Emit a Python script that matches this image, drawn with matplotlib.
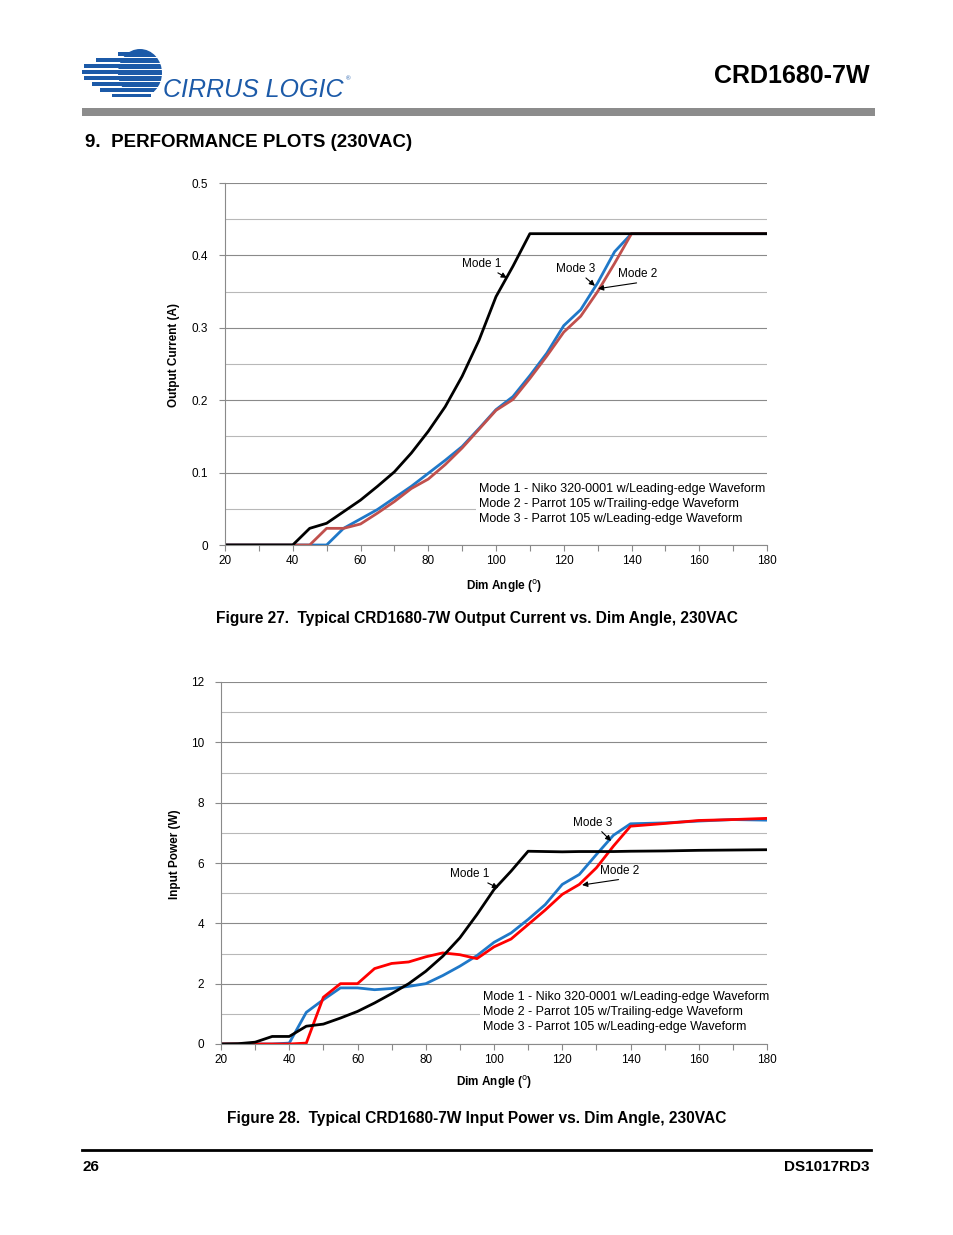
import numpy as np
import matplotlib.pyplot as plt
from matplotlib.patches import Rectangle, Ellipse
from matplotlib.ticker import MultipleLocator

plt.rcParams['font.family'] = ['Liberation Sans', 'DejaVu Sans']

# Figure 27 data: output current (A) vs dim angle
angle = [20, 25, 30, 35, 40, 45, 50, 55, 60, 65, 70, 75, 80, 85, 90, 95, 100,
         105, 110, 115, 120, 125, 130, 135, 140, 150, 160, 170, 180]
i_mode1 = [0, 0, 0, 0, 0, 0.023, 0.030, 0.046, 0.062, 0.081, 0.101, 0.127,
           0.157, 0.191, 0.233, 0.283, 0.343, 0.385, 0.430, 0.430, 0.430,
           0.430, 0.430, 0.430, 0.430, 0.430, 0.430, 0.430, 0.430]
i_mode2 = [0, 0, 0, 0, 0, 0, 0.023, 0.023, 0.029, 0.044, 0.060, 0.078, 0.091,
           0.111, 0.134, 0.160, 0.186, 0.201, 0.230, 0.261, 0.294, 0.316,
           0.350, 0.389, 0.430, 0.430, 0.430, 0.430, 0.430]
i_mode3 = [0, 0, 0, 0, 0, 0, 0, 0.023, 0.036, 0.049, 0.065, 0.081, 0.099,
           0.117, 0.136, 0.161, 0.187, 0.205, 0.234, 0.265, 0.303, 0.325,
           0.362, 0.405, 0.430, 0.430, 0.430, 0.430, 0.430]

# Figure 28 data: input power (W) vs dim angle
p_mode1 = [0, 0.01, 0.06, 0.25, 0.25, 0.59, 0.66, 0.86, 1.08, 1.36, 1.67,
           2.00, 2.41, 2.91, 3.52, 4.29, 5.12, 5.73, 6.39, 6.38, 6.37, 6.38,
           6.38, 6.38, 6.39, 6.40, 6.42, 6.43, 6.44]
p_mode2 = [0, 0, 0, 0, 0, 0.03, 1.55, 2.00, 2.00, 2.50, 2.67, 2.72, 2.89,
           3.02, 2.96, 2.83, 3.22, 3.48, 3.96, 4.44, 4.96, 5.29, 5.84, 6.56,
           7.22, 7.31, 7.41, 7.44, 7.48]
p_mode3 = [0, 0, 0, 0, 0.03, 1.05, 1.47, 1.86, 1.86, 1.80, 1.84, 1.91, 2.00,
           2.27, 2.58, 2.93, 3.37, 3.68, 4.13, 4.62, 5.29, 5.62, 6.28, 6.92,
           7.30, 7.33, 7.39, 7.44, 7.42]

legend_txt = ("Mode 1 - Niko 320-0001 w/Leading-edge Waveform\n"
              "Mode 2 - Parrot 105 w/Trailing-edge Waveform\n"
              "Mode 3 - Parrot 105 w/Leading-edge Waveform")

W, H = 954, 1235
fig = plt.figure(figsize=(W / 100, H / 100), dpi=100)

# page overlay in pixel coords
bg = fig.add_axes([0, 0, 1, 1])
bg.set_xlim(0, W)
bg.set_ylim(H, 0)
bg.axis('off')

logo_blue = '#1C5AA8'
# stripe logo
for k, (y0, xl) in enumerate([(52, 118), (58, 96), (64, 84), (70, 82),
                              (76, 84), (82, 92), (88, 100), (93, 112)]):
    bg.add_patch(Rectangle((xl, y0), 162 - xl - abs(k - 3.5) * 3, 4.2,
                           color=logo_blue, lw=0))
bg.add_patch(Ellipse((140, 73), 44, 48, color=logo_blue, lw=0, zorder=1))
for y0 in [56.5, 62.5, 68.5, 74.5, 80.5, 86.5, 92]:
    bg.add_patch(Rectangle((80, y0), 90, 1.6, color='white', lw=0, zorder=2))
bg.text(163, 97, 'CIRRUS LOGIC', color=logo_blue, fontsize=18,
        style='italic', ha='left', va='baseline')
bg.text(346, 80, '®', color=logo_blue, fontsize=4.5, ha='left', va='baseline')

bg.text(870, 83, 'CRD1680-7W', fontsize=18, fontweight='bold',
        ha='right', va='baseline')
bg.add_patch(Rectangle((82, 108), 793, 8, color='#8C8C8C', lw=0))
bg.text(85, 147, '9.  PERFORMANCE PLOTS (230VAC)', fontsize=13.5,
        fontweight='bold', ha='left', va='baseline')

bg.text(477, 623, 'Figure 27.  Typical CRD1680-7W Output Current vs. Dim Angle, 230VAC',
        fontsize=11.2, fontweight='bold', ha='center', va='baseline')
bg.text(477, 1123, 'Figure 28.  Typical CRD1680-7W Input Power vs. Dim Angle, 230VAC',
        fontsize=11.2, fontweight='bold', ha='center', va='baseline')

bg.plot([82, 871], [1150, 1150], color='black', lw=2)
bg.text(83, 1171, '26', fontsize=11, fontweight='bold', ha='left', va='baseline')
bg.text(870, 1171, 'DS1017RD3', fontsize=11, fontweight='bold',
        ha='right', va='baseline')


def style_axes(ax, ymax, ymajor, yminor, yfmt):
    ax.set_xlim(20, 180)
    ax.set_ylim(0, ymax)
    ax.xaxis.set_major_locator(MultipleLocator(20))
    ax.xaxis.set_minor_locator(MultipleLocator(10))
    ax.yaxis.set_major_locator(MultipleLocator(ymajor))
    ax.yaxis.set_minor_locator(MultipleLocator(yminor))
    ax.yaxis.set_major_formatter(yfmt)
    ax.grid(True, axis='y', which='major', color='#8A8A8A', lw=0.8)
    ax.grid(True, axis='y', which='minor', color='#B8B8B8', lw=0.8)
    ax.set_axisbelow(True)
    for s in ['top', 'right']:
        ax.spines[s].set_visible(False)
    for s in ['left', 'bottom']:
        ax.spines[s].set_color('#8A8A8A')
        ax.spines[s].set_linewidth(0.8)
    ax.tick_params(which='both', color='#8A8A8A', labelsize=8.5, length=4,
                   width=0.8)
    ax.tick_params(axis='y', which='minor', length=0)
    ax.tick_params(axis='y', which='major', pad=8)
    ax.tick_params(axis='x', which='major', pad=3)
    ax.set_xlabel(r'Dim Angle ($^{\mathrm{o}}$)', fontsize=8.5, fontweight='bold')


arr = dict(arrowstyle='-|>', color='black', lw=0.8, mutation_scale=8,
           shrinkA=0, shrinkB=0)

# Figure 27
ax1 = fig.add_axes([225 / W, 1 - 545 / H, 542 / W, 362 / H])
ax1.plot(angle, i_mode3, color='#1F78C8', lw=2)
ax1.plot(angle, i_mode2, color='#C0504D', lw=2)
ax1.plot(angle, i_mode1, color='black', lw=2)
style_axes(ax1, 0.5, 0.1, 0.05,
           lambda v, p: '0' if v == 0 else f'{v:.1f}')
ax1.set_ylabel('Output Current (A)', fontsize=8.5, fontweight='bold')
ax1.yaxis.set_label_coords(-0.083, 0.525)
ax1.xaxis.set_label_coords(0.514, -0.09)
ax1.text(0.469, 0.170, legend_txt, transform=ax1.transAxes, fontsize=9,
         ha='left', va='top', linespacing=1.3,
         bbox=dict(facecolor='white', edgecolor='none', pad=2))
ax1.annotate('Mode 1', xy=(103.2, 0.369), xytext=(95.9, 0.388),
             fontsize=8.5, ha='center', va='center', arrowprops=arr)
ax1.annotate('Mode 3', xy=(129.2, 0.358), xytext=(123.6, 0.381),
             fontsize=8.5, ha='center', va='center', arrowprops=arr)
ax1.annotate('', xy=(130.1, 0.354), xytext=(141.5, 0.362), arrowprops=arr)
ax1.text(141.9, 0.374, 'Mode 2', fontsize=8.5, ha='center', va='center')

# Figure 28
ax2 = fig.add_axes([221 / W, 1 - 1044 / H, 546 / W, 362 / H])
ax2.plot(angle, p_mode3, color='#1F78C8', lw=2)
ax2.plot(angle, p_mode2, color='#FF0000', lw=2)
ax2.plot(angle, p_mode1, color='black', lw=2)
style_axes(ax2, 12, 2, 1, lambda v, p: f'{v:.0f}')
ax2.set_ylabel('Input Power (W)', fontsize=8.5, fontweight='bold')
ax2.yaxis.set_label_coords(-0.073, 0.525)
ax2.xaxis.set_label_coords(0.5, -0.083)
ax2.text(0.48, 0.146, legend_txt, transform=ax2.transAxes, fontsize=9,
         ha='left', va='top', linespacing=1.3,
         bbox=dict(facecolor='white', edgecolor='none', pad=2))
ax2.annotate('Mode 1', xy=(101.2, 5.17), xytext=(93.0, 5.63),
             fontsize=8.5, ha='center', va='center', arrowprops=arr)
ax2.annotate('Mode 3', xy=(134.3, 6.73), xytext=(129.0, 7.33),
             fontsize=8.5, ha='center', va='center', arrowprops=arr)
ax2.annotate('', xy=(125.8, 5.27), xytext=(136.5, 5.45), arrowprops=arr)
ax2.text(136.9, 5.73, 'Mode 2', fontsize=8.5, ha='center', va='center')

fig.savefig('out.png', dpi=100)
